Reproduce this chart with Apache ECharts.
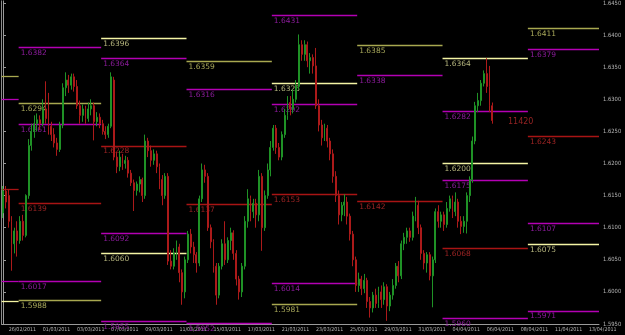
<!DOCTYPE html>
<html>
<head>
<meta charset="utf-8">
<script src="https://cdn.jsdelivr.net/npm/echarts@6.0.0/dist/echarts.min.js"></script>
<style>
  html, body { margin: 0; padding: 0; background: #000; }
  #chart { width: 625px; height: 335px; }
</style>
</head>
<body>
<div id="chart"></div>
<script>
// date labels, one every 12 bars (H4, 2 trading days)
const dateLabels = ['26/02/2011', '01/03/2011', '03/03/2011', '07/03/2011', '09/03/2011', '11/03/2011',
  '15/03/2011', '17/03/2011', '21/03/2011', '23/03/2011', '25/03/2011', '29/03/2011', '31/03/2011',
  '04/04/2011', '06/04/2011', '08/04/2011', '11/04/2011', '13/04/2011']
const barCount = 210
const firstLabelBar = 2
const barsPerLabel = 12

// [open, close, low, high]
const candles = [
  [1.6123, 1.6157, 1.6115, 1.6165], [1.6157, 1.6140, 1.6130, 1.6165], [1.6150, 1.6110, 1.6100, 1.6160],
  [1.6110, 1.6075, 1.6033, 1.6118], [1.6075, 1.6095, 1.6060, 1.6100], [1.6095, 1.6080, 1.6055, 1.6110],
  [1.6080, 1.6110, 1.6075, 1.6118], [1.6110, 1.6088, 1.6080, 1.6120], [1.6088, 1.6150, 1.6085, 1.6152],
  [1.6150, 1.6228, 1.6145, 1.6238], [1.6228, 1.6250, 1.6220, 1.6262], [1.6250, 1.6262, 1.6240, 1.6275],
  [1.6262, 1.6268, 1.6250, 1.6278], [1.6268, 1.6262, 1.6252, 1.6275], [1.6262, 1.6285, 1.6258, 1.6300],
  [1.6285, 1.6270, 1.6262, 1.6328], [1.6300, 1.6258, 1.6245, 1.6310], [1.6258, 1.6245, 1.6235, 1.6265],
  [1.6245, 1.6232, 1.6225, 1.6255], [1.6232, 1.6222, 1.6212, 1.6240], [1.6222, 1.6260, 1.6218, 1.6265],
  [1.6260, 1.6318, 1.6255, 1.6325], [1.6318, 1.6330, 1.6305, 1.6342], [1.6330, 1.6322, 1.6310, 1.6338],
  [1.6322, 1.6335, 1.6315, 1.6340], [1.6335, 1.6320, 1.6312, 1.6340], [1.6320, 1.6290, 1.6285, 1.6330],
  [1.6290, 1.6275, 1.6262, 1.6298], [1.6275, 1.6285, 1.6265, 1.6292], [1.6285, 1.6270, 1.6262, 1.6290],
  [1.6270, 1.6285, 1.6265, 1.6295], [1.6285, 1.6290, 1.6275, 1.6300], [1.6290, 1.6265, 1.6236, 1.6295],
  [1.6265, 1.6272, 1.6258, 1.6280], [1.6272, 1.6262, 1.6255, 1.6278], [1.6262, 1.6250, 1.6245, 1.6268],
  [1.6250, 1.6245, 1.6238, 1.6258], [1.6245, 1.6258, 1.6240, 1.6262], [1.6258, 1.6335, 1.6255, 1.6342],
  [1.6330, 1.6210, 1.6205, 1.6335], [1.6210, 1.6195, 1.6185, 1.6218], [1.6195, 1.6210, 1.6188, 1.6220],
  [1.6210, 1.6200, 1.6190, 1.6215], [1.6200, 1.6205, 1.6192, 1.6212], [1.6205, 1.6185, 1.6178, 1.6210],
  [1.6185, 1.6170, 1.6165, 1.6190], [1.6170, 1.6158, 1.6126, 1.6175], [1.6158, 1.6168, 1.6150, 1.6172],
  [1.6168, 1.6175, 1.6155, 1.6180], [1.6175, 1.6150, 1.6140, 1.6178], [1.6150, 1.6235, 1.6145, 1.6245],
  [1.6235, 1.6220, 1.6210, 1.6240], [1.6220, 1.6205, 1.6195, 1.6228], [1.6205, 1.6215, 1.6198, 1.6222],
  [1.6215, 1.6195, 1.6185, 1.6220], [1.6195, 1.6175, 1.6160, 1.6200], [1.6175, 1.6150, 1.6135, 1.6182],
  [1.6150, 1.6180, 1.6145, 1.6185], [1.6180, 1.6048, 1.6042, 1.6185], [1.6048, 1.6040, 1.6035, 1.6065],
  [1.6040, 1.6060, 1.6035, 1.6068], [1.6060, 1.6070, 1.6050, 1.6080], [1.6070, 1.6030, 1.6015, 1.6075],
  [1.6030, 1.6000, 1.5980, 1.6035], [1.6000, 1.6050, 1.5990, 1.6055], [1.6050, 1.6090, 1.6045, 1.6095],
  [1.6090, 1.6070, 1.6060, 1.6098], [1.6070, 1.6058, 1.6045, 1.6078], [1.6058, 1.6045, 1.6030, 1.6062],
  [1.6045, 1.6145, 1.6040, 1.6150], [1.6145, 1.6190, 1.6140, 1.6200], [1.6190, 1.6180, 1.6170, 1.6198],
  [1.6180, 1.6100, 1.6095, 1.6185], [1.6100, 1.6078, 1.6068, 1.6105], [1.6078, 1.6040, 1.6030, 1.6082],
  [1.6040, 1.5995, 1.5980, 1.6045], [1.5995, 1.6040, 1.5990, 1.6045], [1.6040, 1.6075, 1.6035, 1.6082],
  [1.6075, 1.6050, 1.6042, 1.6110], [1.6050, 1.6080, 1.6045, 1.6085], [1.6080, 1.6092, 1.6065, 1.6100],
  [1.6092, 1.6060, 1.6050, 1.6096], [1.6060, 1.6020, 1.6010, 1.6065], [1.6020, 1.6000, 1.5988, 1.6025],
  [1.6000, 1.6040, 1.5992, 1.6045], [1.6040, 1.6110, 1.6035, 1.6118], [1.6110, 1.6145, 1.6100, 1.6160],
  [1.6145, 1.6125, 1.6110, 1.6150], [1.6125, 1.6138, 1.6115, 1.6145], [1.6138, 1.6120, 1.6100, 1.6145],
  [1.6120, 1.6180, 1.6110, 1.6190], [1.6180, 1.6100, 1.6064, 1.6185], [1.6100, 1.6150, 1.6095, 1.6158],
  [1.6150, 1.6190, 1.6145, 1.6200], [1.6190, 1.6225, 1.6180, 1.6235], [1.6225, 1.6255, 1.6220, 1.6260],
  [1.6255, 1.6225, 1.6215, 1.6260], [1.6225, 1.6210, 1.6205, 1.6232], [1.6210, 1.6245, 1.6205, 1.6250],
  [1.6245, 1.6275, 1.6240, 1.6285], [1.6275, 1.6295, 1.6268, 1.6305], [1.6295, 1.6285, 1.6275, 1.6305],
  [1.6285, 1.6300, 1.6278, 1.6315], [1.6300, 1.6320, 1.6295, 1.6330], [1.6320, 1.6385, 1.6315, 1.6401],
  [1.6385, 1.6370, 1.6360, 1.6392], [1.6370, 1.6385, 1.6360, 1.6392], [1.6385, 1.6360, 1.6350, 1.6390],
  [1.6360, 1.6365, 1.6340, 1.6372], [1.6365, 1.6352, 1.6340, 1.6370], [1.6352, 1.6290, 1.6285, 1.6380],
  [1.6290, 1.6260, 1.6250, 1.6300], [1.6260, 1.6240, 1.6228, 1.6268], [1.6240, 1.6255, 1.6235, 1.6262],
  [1.6255, 1.6235, 1.6225, 1.6260], [1.6235, 1.6215, 1.6205, 1.6240], [1.6215, 1.6180, 1.6170, 1.6222],
  [1.6180, 1.6150, 1.6140, 1.6188], [1.6150, 1.6120, 1.6105, 1.6158], [1.6120, 1.6135, 1.6110, 1.6140],
  [1.6135, 1.6140, 1.6118, 1.6152], [1.6140, 1.6118, 1.6105, 1.6148], [1.6118, 1.6090, 1.6080, 1.6122],
  [1.6090, 1.6050, 1.6040, 1.6095], [1.6050, 1.6010, 1.6000, 1.6055], [1.6010, 1.6020, 1.6000, 1.6030],
  [1.6020, 1.6005, 1.5995, 1.6025], [1.6005, 1.6018, 1.5998, 1.6028], [1.6018, 1.5985, 1.5975, 1.6022],
  [1.5985, 1.5975, 1.5960, 1.5992], [1.5975, 1.5995, 1.5968, 1.6000], [1.5995, 1.5982, 1.5975, 1.6005],
  [1.5982, 1.6000, 1.5975, 1.6008], [1.6000, 1.5988, 1.5975, 1.6010], [1.5988, 1.6008, 1.5980, 1.6015],
  [1.6008, 1.5978, 1.5955, 1.6012], [1.5978, 1.5995, 1.5970, 1.6000], [1.5995, 1.6010, 1.5988, 1.6020],
  [1.6010, 1.6040, 1.6005, 1.6045], [1.6040, 1.6025, 1.6015, 1.6048], [1.6025, 1.6075, 1.6020, 1.6080],
  [1.6075, 1.6085, 1.6065, 1.6092], [1.6085, 1.6095, 1.6075, 1.6100], [1.6095, 1.6085, 1.6078, 1.6100],
  [1.6085, 1.6118, 1.6080, 1.6125], [1.6118, 1.6135, 1.6110, 1.6148], [1.6135, 1.6100, 1.6090, 1.6142],
  [1.6100, 1.6060, 1.6050, 1.6105], [1.6060, 1.6045, 1.6035, 1.6065], [1.6045, 1.6058, 1.6030, 1.6062],
  [1.6058, 1.6025, 1.6018, 1.6062], [1.6025, 1.6050, 1.5976, 1.6055], [1.6050, 1.6125, 1.6045, 1.6130],
  [1.6125, 1.6110, 1.6100, 1.6135], [1.6110, 1.6120, 1.6100, 1.6125], [1.6120, 1.6105, 1.6095, 1.6125],
  [1.6105, 1.6130, 1.6100, 1.6140], [1.6130, 1.6145, 1.6125, 1.6150], [1.6145, 1.6125, 1.6115, 1.6150],
  [1.6125, 1.6140, 1.6118, 1.6155], [1.6140, 1.6110, 1.6100, 1.6145], [1.6110, 1.6102, 1.6090, 1.6118],
  [1.6102, 1.6110, 1.6092, 1.6118], [1.6110, 1.6150, 1.6091, 1.6155], [1.6150, 1.6175, 1.6140, 1.6180],
  [1.6175, 1.6235, 1.6170, 1.6242], [1.6235, 1.6290, 1.6230, 1.6296], [1.6290, 1.6298, 1.6280, 1.6310],
  [1.6298, 1.6325, 1.6290, 1.6330], [1.6325, 1.6340, 1.6320, 1.6345], [1.6340, 1.6320, 1.6310, 1.6364],
  [1.6320, 1.6290, 1.6280, 1.6352], [1.6290, 1.6267, 1.6262, 1.6295]
]
const lastPrice = 1.6267

// weekly pivot segments: bar positions where each week starts/ends
const weekBounds = [-0.5, 5.5, 34.5, 64.5, 94.5, 124.5, 154.5, 184.5, 209.5]
// [week, level, kind]  kind: m = magenta, r = red, Y = pale yellow, y = olive
const levels = [
  [0, 1.6336, 'y'], [0, 1.6301, 'm'], [0, 1.6161, 'r'], [0, 1.6017, 'm'], [0, 1.5986, 'Y'],
  [1, 1.6382, 'm'], [1, 1.6294, 'y'], [1, 1.6261, 'm'], [1, 1.6139, 'r'], [1, 1.6017, 'm'], [1, 1.5988, 'y'],
  [2, 1.6396, 'Y'], [2, 1.6364, 'm'], [2, 1.6228, 'r'], [2, 1.6092, 'm'], [2, 1.6060, 'Y'], [2, 1.5955, 'm'],
  [3, 1.6359, 'y'], [3, 1.6316, 'm'], [3, 1.6137, 'r'], [3, 1.5952, 'm'],
  [4, 1.6431, 'm'], [4, 1.6325, 'Y'], [4, 1.6292, 'm'], [4, 1.6153, 'r'], [4, 1.6014, 'm'], [4, 1.5981, 'y'],
  [5, 1.6385, 'y'], [5, 1.6338, 'm'], [5, 1.6142, 'r'],
  [6, 1.6364, 'Y'], [6, 1.6282, 'm'], [6, 1.6200, 'Y'], [6, 1.6175, 'm'], [6, 1.6068, 'r'], [6, 1.5960, 'm'],
  [7, 1.6411, 'y'], [7, 1.6379, 'm'], [7, 1.6243, 'r'], [7, 1.6107, 'm'], [7, 1.6075, 'Y'], [7, 1.5971, 'm']
]
const noteText = '11420'
const notePoint = [177.5, 1.6264]

const lineColors = { m: '#b400b4', r: '#a81414', Y: '#f4f4a4', y: '#a8a850' }
const textColors = { m: '#8c1c9c', r: '#9c2424', Y: '#b6b67e', y: '#a8a85a' }

const categories = []
for (let i = 0; i < barCount; i++) {
  const k = (i - firstLabelBar) / barsPerLabel
  categories.push(Number.isInteger(k) && k >= 0 && k < dateLabels.length ? dateLabels[k] : '')
}

const levelData = levels.map(([w, v, kind]) => [weekBounds[w], weekBounds[w + 1], v, kind, w > 0 ? v.toFixed(4) : ''])

const chart = echarts.init(document.getElementById('chart'), null, { renderer: 'canvas' })
const smallFont = "'DejaVu Sans Condensed','Liberation Sans',sans-serif"

chart.setOption({
  backgroundColor: '#000',
  animation: false,
  grid: { left: 1, right: 26, top: 0, bottom: 11 },
  xAxis: [
    {
      type: 'category',
      data: categories,
      boundaryGap: true,
      axisLine: { lineStyle: { color: '#9a9a9a' } },
      axisTick: { show: false },
      axisLabel: { interval: 0, color: '#b4b4b4', fontSize: 5.3, fontFamily: smallFont, align: 'left', margin: 3 },
      splitLine: { show: false }
    },
    { type: 'value', min: -0.5, max: barCount - 0.5, show: false }
  ],
  yAxis: [
    {
      type: 'value',
      position: 'right',
      min: 1.595,
      max: 1.64533,
      interval: 0.005,
      axisLine: { show: true, lineStyle: { color: '#9a9a9a' } },
      axisTick: { show: true, length: 3, lineStyle: { color: '#9a9a9a' } },
      axisLabel: { color: '#b4b4b4', fontSize: 5.8, fontFamily: smallFont, margin: 4, showMaxLabel: false,
        formatter: (v) => v.toFixed(4) },
      splitLine: { show: false }
    },
    {
      type: 'value', position: 'left', min: 1.595, max: 1.64533,
      axisLine: { show: true, lineStyle: { color: '#8a8a8a' } },
      axisTick: { show: false }, axisLabel: { show: false }, splitLine: { show: false }
    }
  ],
  series: [
    {
      type: 'custom',
      xAxisIndex: 1,
      yAxisIndex: 0,
      clip: false,
      z: 1,
      data: levelData,
      renderItem: (params, api) => {
        const item = levelData[params.dataIndex]
        const a = api.coord([item[0], item[2]])
        const b = api.coord([item[1], item[2]])
        const kind = item[3]
        const children = [{
          type: 'line',
          shape: { x1: a[0], y1: Math.round(a[1]) + 0.5, x2: b[0], y2: Math.round(b[1]) + 0.5 },
          style: { stroke: lineColors[kind], lineWidth: 1.3 }
        }]
        if (item[4]) {
          children.push({
            type: 'text',
            x: a[0] + 2,
            y: a[1] + 2,
            style: { text: item[4], fill: textColors[kind], font: "7.5px 'DejaVu Sans'", verticalAlign: 'top' }
          })
        }
        return { type: 'group', children }
      }
    },
    {
      type: 'candlestick',
      xAxisIndex: 0,
      yAxisIndex: 0,
      z: 3,
      barMaxWidth: 2,
      data: candles,
      itemStyle: { color: '#1f9226', color0: '#ac1a1a', borderColor: '#1f9226', borderColor0: '#ac1a1a', borderWidth: 1 },
      markLine: {
        silent: true,
        symbol: 'none',
        lineStyle: { opacity: 0 },
        data: [{ yAxis: lastPrice }],
        label: { position: 'end', distance: 1, formatter: () => lastPrice.toFixed(4), backgroundColor: '#ffffff',
          color: '#000', fontSize: 5.8, fontFamily: smallFont, padding: [2, 6, 2, 5] }
      }
    },
    {
      type: 'scatter',
      xAxisIndex: 1,
      yAxisIndex: 0,
      symbolSize: 0,
      data: [notePoint],
      label: { show: true, position: 'right', formatter: noteText, color: '#b82c2c', fontSize: 8, fontFamily: 'DejaVu Sans', distance: 0 }
    }
  ]
})
</script>
</body>
</html>
